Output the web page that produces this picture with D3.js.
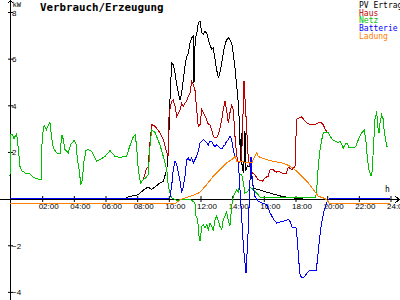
<!DOCTYPE html>
<html>
<head>
<meta charset="utf-8">
<script src="https://cdn.jsdelivr.net/npm/d3@7"></script>
<style>
  body { margin: 0; background: #fff; }
  svg { display: block; font-family: 'DejaVu Sans Mono', monospace; }
  .series { fill: none; stroke-width: 1; shape-rendering: crispEdges; }
  .axis text { font-size: 8px; fill: #000; }
</style>
</head>
<body>
<div id="visualization"><svg></svg></div>
<script>
// [hour, kW]
const nightMorning = [[0,0.96],[0.03,2.74],[0.15,2.74],[0.25,2.57],[0.42,2.79],[0.52,2.19],[0.63,1.38],[0.74,1.2],[0.95,1.1],[1.26,1.06],[1.47,0.91],[1.79,0.84],[1.97,0.81],[2.03,2.6],[2.15,3.13],[2.3,2.96],[2.52,3.29],[2.63,2.6],[2.74,2.17],[2.95,1.96],[3.16,1.92],[3.27,2.74],[3.37,2.53],[3.47,2.1],[3.68,1.96],[3.83,2.31],[4.04,2.49],[4.17,2.34],[4.25,1.74],[4.38,1.17],[4.47,0.6],[4.57,0.81],[4.67,1.6],[4.8,2.06],[4.95,2.1],[5.16,2.03],[5.47,1.6],[5.68,1.67],[6.0,1.81],[6.32,2.06],[6.63,1.81],[6.95,1.77],[7.37,1.81],[7.54,2.2],[7.75,2.6],[7.9,2.74],[8.0,2.24],[8.1,1.24],[8.25,0.67],[8.42,0.81]];

const evening = [[20.1,2.82],[20.32,2.56],[20.53,2.46],[20.74,2.41],[20.84,2.46],[20.95,2.31],[21.05,2.17],[21.22,2.39],[21.3,2.35],[21.43,2.17],[21.68,2.17],[21.85,2.24],[22.0,2.53],[22.21,2.82],[22.38,2.93],[22.47,2.53],[22.57,1.74],[22.67,1.24],[22.8,0.96],[22.86,1.1],[22.95,2.1],[23.05,3.39],[23.16,3.74],[23.22,3.1],[23.31,2.82],[23.37,3.24],[23.47,3.6],[23.58,3.39],[23.64,2.82],[23.73,2.53],[23.79,2.24],[23.9,2.24]];

const pvDay = [[7.3,0],[7.47,0.07],[8.1,0.17],[8.42,0.36],[8.73,0.5],[8.95,0.39],[9.27,0.56],[9.47,0.67],[9.68,0.74],[9.9,1.24],[10.0,1.96],[10.1,4.2],[10.21,5.82],[10.31,5.74],[10.42,5.39],[10.53,4.89],[10.63,4.53],[10.74,4.24],[10.84,4.53],[10.95,5.1],[11.05,5.67],[11.16,6.1],[11.26,6.24],[11.37,6.67],[11.47,6.89],[11.58,6.96],[11.62,4.96],[11.7,6.9],[11.79,7.03],[11.89,7.53],[12.0,7.6],[12.11,7.1],[12.21,7.03],[12.32,7.17],[12.42,7.1],[12.53,6.81],[12.63,6.6],[12.74,6.39],[12.84,6.46],[12.95,5.96],[13.05,5.53],[13.16,5.17],[13.26,5.39],[13.37,5.82],[13.47,6.24],[13.58,6.6],[13.68,6.81],[13.79,6.89],[13.89,6.81],[14.0,6.67],[14.1,6.24],[14.21,5.6],[14.32,4.81],[14.42,4.1],[14.5,3.1],[14.55,1.6],[14.6,2.8],[14.66,1.3],[14.76,1.1],[14.84,2.9],[14.9,1.2],[15.0,1.4],[15.16,1.38],[15.37,0.44],[15.79,0.37],[16.2,0.28],[16.6,0.2],[17.26,0.08],[18.0,0.02],[18.5,0]];

const hausDay = [[8.6,1.24],[8.73,1.38],[8.85,2.5],[8.95,3.17],[9.16,3.1],[9.47,2.82],[9.68,2.53],[9.9,1.97],[10.0,1.81],[10.02,3.39],[10.1,3.81],[10.21,4.17],[10.31,4.24],[10.42,3.96],[10.53,3.53],[10.63,3.67],[10.74,3.81],[10.84,4.1],[10.95,3.96],[11.05,4.1],[11.16,4.17],[11.26,4.38],[11.37,4.53],[11.47,5.03],[11.58,4.89],[11.68,4.67],[11.79,3.81],[11.89,3.1],[12.0,3.17],[12.11,3.81],[12.21,3.67],[12.32,3.53],[12.42,3.39],[12.53,3.17],[12.63,3.17],[12.74,2.96],[12.84,2.67],[12.95,2.6],[13.05,2.6],[13.16,2.74],[13.26,3.03],[13.37,3.39],[13.47,3.81],[13.58,4.17],[13.68,3.81],[13.79,3.24],[13.89,3.67],[14.0,4.03],[14.1,3.81],[14.21,2.67],[14.32,1.81],[14.45,1.5],[14.63,1.7],[14.78,5.05],[14.9,3.6],[15.05,1.7],[15.16,1.38],[15.3,1.1],[15.47,1.03],[15.66,0.81],[15.95,0.74],[16.1,0.89],[16.31,0.96],[16.42,1.24],[16.63,1.24],[16.8,1.13],[16.95,1.17],[17.16,1.1],[17.43,1.07],[17.58,1.35],[17.79,1.24],[18.0,1.38],[18.1,3.39],[18.21,3.45],[18.42,3.5],[18.74,3.24],[18.95,3.17],[19.37,3.2],[19.58,3.29],[19.79,3.17],[19.9,2.96],[20.04,2.85]];

const netzDay = [[8.6,0.9],[8.73,1.03],[8.85,2.3],[8.95,2.96],[9.16,2.83],[9.47,2.31],[9.68,1.81],[9.9,1.24],[10.0,0.53],[10.1,0.24],[10.2,0.03],[10.42,-0.04],[10.63,-0.12],[10.74,-0.04],[10.95,-0.02],[11.16,-0.04],[11.37,-0.04],[11.58,-0.12],[11.68,-0.18],[11.75,-0.76],[11.85,-0.9],[11.94,-1.62],[12.0,-1.83],[12.11,-1.19],[12.21,-1.11],[12.32,-1.26],[12.42,-1.11],[12.53,-1.33],[12.63,-1.04],[12.74,-1.19],[12.84,-1.4],[12.95,-0.9],[13.05,-0.76],[13.16,-0.97],[13.26,-1.19],[13.37,-1.33],[13.47,-0.9],[13.58,-0.76],[13.68,-0.54],[13.79,-0.97],[13.89,-1.19],[14.0,-0.33],[14.1,0.1],[14.21,0.24],[14.32,0.4],[14.45,0.25],[14.5,1.0],[14.63,1.03],[14.74,0.67],[14.84,0.23],[15.0,0.3],[15.16,0.47],[15.37,0.39],[15.58,0.24],[15.79,0.07],[16.2,0.03],[19.3,0.03],[19.37,0.38],[19.47,1.38],[19.58,2.1],[19.69,2.53],[19.79,2.82],[19.9,2.85],[20.04,2.85]];

const batterie = [[0,0],[10.0,0],[10.1,0.05],[10.21,0.53],[10.31,1.24],[10.42,1.6],[10.53,1.46],[10.63,1.1],[10.74,0.74],[10.84,0.25],[10.95,0.53],[11.05,0.96],[11.16,1.67],[11.26,1.74],[11.37,1.6],[11.47,1.74],[11.58,1.53],[11.68,1.67],[11.79,1.81],[11.89,2.03],[12.0,2.39],[12.11,2.46],[12.21,2.53],[12.32,2.46],[12.42,2.39],[12.53,2.31],[12.63,2.46],[12.74,2.46],[12.84,2.31],[12.95,2.24],[13.05,2.31],[13.16,2.24],[13.26,2.17],[13.37,2.13],[13.47,2.24],[13.58,2.31],[13.68,2.46],[13.79,2.53],[13.89,2.67],[14.0,2.53],[14.1,2.1],[14.21,1.81],[14.32,1.6],[14.42,1.6],[14.5,0.67],[14.63,-0.76],[14.74,-2.04],[14.84,-2.76],[14.91,-3.19],[14.95,-2.61],[15.01,-1.9],[15.08,-0.76],[15.12,0.24],[15.16,0.81],[15.22,1.8],[15.3,0.8],[15.47,0.1],[15.68,-0.12],[15.9,-0.18],[16.21,-0.26],[16.42,-0.6],[16.63,-0.87],[16.84,-1.05],[17.05,-1.0],[17.26,-0.97],[17.43,-0.94],[17.58,-0.9],[17.73,-1.01],[17.79,-1.21],[18.06,-1.26],[18.15,-1.76],[18.23,-2.61],[18.32,-3.26],[18.42,-3.4],[18.57,-3.36],[18.74,-3.21],[18.95,-3.07],[19.16,-3.07],[19.33,-3.07],[19.41,-2.69],[19.52,-1.9],[19.62,-1.33],[19.72,-0.9],[19.83,-0.54],[19.96,-0.26],[20.1,-0.04],[20.21,0],[24,0]];

const ladung = [[0,-0.23],[10.4,-0.23],[10.74,-0.06],[11.05,0.03],[11.37,0.1],[11.68,0.17],[12.0,0.27],[12.42,0.6],[12.84,0.96],[13.26,1.24],[13.68,1.53],[14.0,1.67],[14.21,1.81],[14.32,1.6],[14.63,1.6],[14.95,1.53],[15.27,1.53],[15.47,1.81],[15.58,1.96],[15.68,1.81],[15.9,1.74],[16.21,1.67],[16.63,1.6],[17.05,1.55],[17.48,1.46],[17.89,1.31],[18.21,1.1],[18.52,0.89],[18.84,0.67],[19.16,0.39],[19.47,0.1],[19.79,0.03],[20.0,-0.04],[20.17,-0.21],[24,-0.21]];

const seriesNames = ['PV Ertrag', 'Haus', 'Netz', 'Batterie', 'Ladung'];
const seriesColors = ['#000000', '#c00000', '#00c000', '#0000ff', '#ff8000'];
const xTickHours = [2, 4, 6, 8, 10, 12, 14, 16, 18, 20, 22, 24];
const xTickLabels = ['02:00','04:00','06:00','08:00','10:00','12:00','14:00','16:00','18:00','20:00','22:00','24:00'];
const yTickValues = [8, 6, 4, 2, -2, -4];

const seriesData = [
  pvDay,
  nightMorning.concat(hausDay, evening),
  nightMorning.concat(netzDay, evening),
  batterie,
  ladung
];

const width = 400, height = 300;
const svg = d3.select('#visualization svg')
  .attr('width', width)
  .attr('height', height);

const xScale = d3.scaleLinear().domain([0, 24]).range([10, 390]);
const yScale = d3.scaleLinear().domain([-4, 8]).range([291.9, 12]);

const x0 = xScale(0), y0 = Math.round(yScale(0)) + 0.5;

// axis lines with arrows
const axisG = svg.append('g').attr('stroke', '#000').attr('fill', 'none')
  .style('shape-rendering', 'crispEdges');
axisG.append('line').attr('x1', x0 + 0.5).attr('x2', x0 + 0.5).attr('y1', 0).attr('y2', height);
axisG.append('path').attr('d', `M${x0 - 2.5},3.5L${x0 + 0.5},0.5L${x0 + 3.5},3.5`).style('shape-rendering', null);
axisG.append('line').attr('x1', 0).attr('x2', 399).attr('y1', y0).attr('y2', y0);
axisG.append('path').attr('d', `M395.5,${y0 - 3}L399.5,${y0}L395.5,${y0 + 3}`).style('shape-rendering', null);

const xAxis = d3.axisBottom(xScale)
  .tickValues(xTickHours)
  .tickFormat((d, i) => xTickLabels[i])
  .tickSizeOuter(0);

const xAxisG = svg.append('g')
  .attr('class', 'axis')
  .attr('transform', `translate(0.5, ${y0 - 0.5})`)
  .call(xAxis);
xAxisG.select('.domain').remove();
xAxisG.selectAll('.tick line').attr('y1', -3).attr('y2', 3).attr('stroke', '#000');
xAxisG.selectAll('.tick text')
  .attr('y', 9.5).attr('dy', 0).attr('x', -4)
  .style('text-anchor', 'start');

const yAxis = d3.axisRight(yScale)
  .tickValues(yTickValues)
  .tickFormat(d3.format('d'));

const yAxisG = svg.append('g')
  .attr('class', 'axis')
  .attr('transform', `translate(${x0}, 0)`)
  .call(yAxis);
yAxisG.select('.domain').remove();
yAxisG.selectAll('.tick line').attr('x1', -2).attr('x2', 3).attr('stroke', '#000');
yAxisG.selectAll('.tick text').attr('x', 2).attr('dy', 3);

svg.append('text')
  .attr('x', 12.5).attr('y', 6.5)
  .style('font-size', '7px')
  .text('kW');

svg.append('text')
  .attr('x', 385).attr('y', 191.5)
  .style('font-size', '8px')
  .text('h');

svg.append('text')
  .attr('x', 40).attr('y', 10.5)
  .style('font-size', '10.8px')
  .style('font-weight', 'bold')
  .text('Verbrauch/Erzeugung');

// series
const line = d3.line()
  .x(d => xScale(d[0]))
  .y(d => yScale(d[1]));

svg.append('g').selectAll('path')
  .data(seriesData)
  .enter().append('path')
    .attr('class', 'series')
    .attr('stroke', (d, i) => seriesColors[i])
    .attr('d', line);

// legend
svg.append('g').selectAll('text')
  .data(seriesNames)
  .enter().append('text')
    .attr('x', 359)
    .attr('y', (d, i) => 8 + i * 7.7)
    .style('font-size', '8px')
    .attr('fill', (d, i) => seriesColors[i])
    .text(d => d);
</script>
</body>
</html>
